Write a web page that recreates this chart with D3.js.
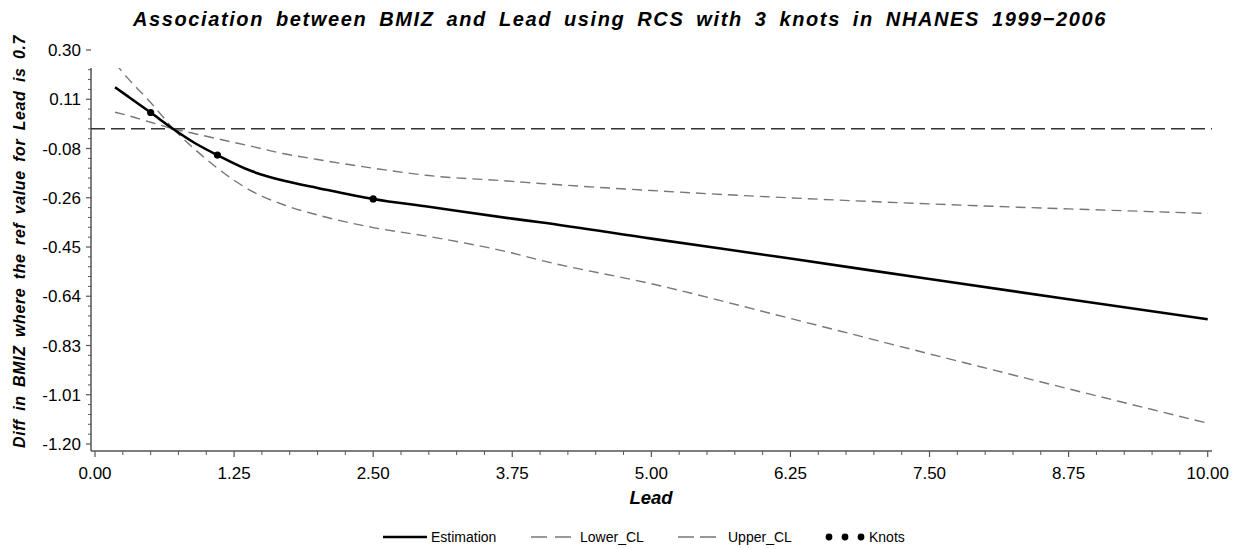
<!DOCTYPE html>
<html>
<head>
<meta charset="utf-8">
<script src="https://cdn.jsdelivr.net/npm/d3@7"></script>
<style>
  html, body { margin: 0; padding: 0; background: #fff; }
  svg { display: block; }
  text { font-family: "Liberation Sans", Arial, sans-serif; fill: #000; }
</style>
</head>
<body>
<svg id="chart" width="1240" height="549"></svg>
<script>
// ---- data ----
const lead      = [0.18, 0.30, 0.50, 0.70, 0.90, 1.10, 1.40, 1.70, 2.00, 2.50, 3.00, 3.75, 4.00, 5.00, 6.25, 7.50, 8.75, 10.00];
const estimate  = [0.158, 0.122, 0.062, 0.000, -0.055, -0.100, -0.160, -0.198, -0.225, -0.267, -0.297, -0.342, -0.356, -0.418, -0.494, -0.572, -0.649, -0.725];
const lowerCL   = [0.063, 0.050, 0.025, 0.000, -0.079, -0.150, -0.235, -0.290, -0.328, -0.376, -0.410, -0.473, -0.500, -0.590, -0.722, -0.857, -0.990, -1.121];
const upperCL   = [0.250, 0.190, 0.100, 0.000, -0.019, -0.038, -0.066, -0.095, -0.117, -0.150, -0.178, -0.200, -0.208, -0.235, -0.263, -0.286, -0.305, -0.322];
const refLead   = 0.7;
const refValue  = 0;
const knots     = [0.50, 1.10, 2.50];
const xTicks    = [0, 1.25, 2.5, 3.75, 5, 6.25, 7.5, 8.75, 10];
const xTickLabels = ["0.00", "1.25", "2.50", "3.75", "5.00", "6.25", "7.50", "8.75", "10.00"];
const yTicks    = [0.30, 0.1125, -0.075, -0.2625, -0.45, -0.6375, -0.825, -1.0125, -1.20];
const yTickLabels = ["0.30", "0.11", "-0.08", "-0.26", "-0.45", "-0.64", "-0.83", "-1.01", "-1.20"];
const titleText = "Association between BMIZ and Lead using RCS with 3 knots in NHANES 1999\u22122006";
const yLabelText = "Diff in BMIZ where the ref value for Lead is 0.7";
const xLabelText = "Lead";
const legendItems = ["Estimation", "Lower_CL", "Upper_CL", "Knots"];

// ---- layout ----
const svg = d3.select("#chart");
const area = { left: 91, right: 1212, top: 68, bottom: 451 };
const x = d3.scaleLinear().domain([0, 10]).range([95, 1207.7]);
const y = d3.scaleLinear().domain([0.30, -1.20]).range([50, 444]);

const axisColor = "#555";
const clColor = "#777";

// widen word gaps so a text fills a target width
function fitWords(sel, target) {
  const node = sel.node();
  const len = node.getComputedTextLength();
  const gaps = (sel.text().match(/ /g) || []).length;
  if (gaps > 0 && len < target) sel.style("word-spacing", ((target - len) / gaps) + "px");
}

// clip
svg.append("defs").append("clipPath").attr("id", "clip")
  .append("rect")
  .attr("x", area.left).attr("y", area.top)
  .attr("width", area.right - area.left).attr("height", area.bottom - area.top);

// title
const title = svg.append("text")
  .attr("x", 620).attr("y", 25.5)
  .attr("text-anchor", "middle")
  .style("font-size", "20px").style("font-weight", "bold").style("font-style", "italic")
  .style("letter-spacing", "1.6px")
  .text(titleText);
fitWords(title, 974);

// y axis
const yMinor = [];
for (let i = 0; i < yTicks.length - 1; i++) {
  const a = yTicks[i], b = yTicks[i + 1];
  for (let k = 1; k < 5; k++) yMinor.push(a + (b - a) * k / 5);
}
const gy = svg.append("g");
gy.append("line")
  .attr("x1", area.left).attr("x2", area.left)
  .attr("y1", area.top).attr("y2", area.bottom)
  .attr("stroke", axisColor).attr("stroke-width", 1.5);
gy.selectAll("line.maj").data(yTicks).enter().append("line").attr("class", "maj")
  .attr("x1", area.left - 5).attr("x2", area.left)
  .attr("y1", d => y(d)).attr("y2", d => y(d))
  .attr("stroke", axisColor).attr("stroke-width", 1.2);
gy.selectAll("line.min").data(yMinor.filter(d => y(d) >= area.top - 1)).enter().append("line").attr("class", "min")
  .attr("x1", area.left - 3).attr("x2", area.left)
  .attr("y1", d => y(d)).attr("y2", d => y(d))
  .attr("stroke", axisColor).attr("stroke-width", 1);
gy.selectAll("text").data(yTicks).enter().append("text")
  .attr("x", 81).attr("y", d => y(d) + 6)
  .attr("text-anchor", "end")
  .style("font-size", "17px")
  .text((d, i) => yTickLabels[i]);

// x axis
const xMinor = [];
for (let i = 0; i < xTicks.length - 1; i++) {
  const a = xTicks[i], b = xTicks[i + 1];
  for (let k = 1; k < 5; k++) xMinor.push(a + (b - a) * k / 5);
}
const gx = svg.append("g");
gx.append("line")
  .attr("x1", area.left).attr("x2", area.right)
  .attr("y1", area.bottom).attr("y2", area.bottom)
  .attr("stroke", axisColor).attr("stroke-width", 1.5);
gx.selectAll("line.maj").data(xTicks).enter().append("line").attr("class", "maj")
  .attr("x1", d => x(d)).attr("x2", d => x(d))
  .attr("y1", area.bottom).attr("y2", area.bottom + 6)
  .attr("stroke", axisColor).attr("stroke-width", 1.2);
gx.selectAll("line.min").data(xMinor).enter().append("line").attr("class", "min")
  .attr("x1", d => x(d)).attr("x2", d => x(d))
  .attr("y1", area.bottom).attr("y2", area.bottom + 4)
  .attr("stroke", axisColor).attr("stroke-width", 1);
gx.selectAll("text").data(xTicks).enter().append("text")
  .attr("x", d => x(d)).attr("y", 479)
  .attr("text-anchor", "middle")
  .style("font-size", "17px")
  .text((d, i) => xTickLabels[i]);

// axis labels
const yLab = svg.append("text")
  .attr("transform", "translate(25,241.5) rotate(-90)")
  .attr("text-anchor", "middle")
  .style("font-size", "16px").style("font-weight", "bold").style("font-style", "italic")
  .style("letter-spacing", "0.6px")
  .text(yLabelText);
fitWords(yLab, 413);
svg.append("text")
  .attr("x", 651).attr("y", 504)
  .attr("text-anchor", "middle")
  .style("font-size", "18.5px").style("font-weight", "bold").style("font-style", "italic")
  .text(xLabelText);

// plot
const plot = svg.append("g").attr("clip-path", "url(#clip)");

// reference line
plot.append("line")
  .attr("x1", area.left).attr("x2", area.right)
  .attr("y1", y(refValue)).attr("y2", y(refValue))
  .attr("stroke", "#333").attr("stroke-width", 1.5)
  .attr("stroke-dasharray", "14,6");

const pts = vals => lead.map((l, i) => [l, vals[i]]);
const line = d3.line().x(d => x(d[0])).y(d => y(d[1])).curve(d3.curveMonotoneX);

// confidence limits, split at the reference point (kink)
[lowerCL, upperCL].forEach(vals => {
  const p = pts(vals);
  const left = p.filter(d => d[0] <= refLead);
  const right = p.filter(d => d[0] >= refLead);
  [left, right].forEach(seg => {
    plot.append("path").datum(seg)
      .attr("d", line)
      .attr("fill", "none")
      .attr("stroke", clColor).attr("stroke-width", 1.4)
      .attr("stroke-dasharray", "10,6");
  });
});

// estimation
plot.append("path").datum(pts(estimate))
  .attr("d", line)
  .attr("fill", "none")
  .attr("stroke", "#000").attr("stroke-width", 2.6)
  .attr("stroke-linejoin", "round");

// knots
plot.selectAll("circle.knot").data(knots).enter().append("circle").attr("class", "knot")
  .attr("cx", d => x(d))
  .attr("cy", d => y(estimate[lead.indexOf(d)]))
  .attr("r", 3.6)
  .attr("fill", "#000");

// legend
const lg = svg.append("g");
const ly = 537;
lg.append("line").attr("x1", 383).attr("x2", 427).attr("y1", ly).attr("y2", ly)
  .attr("stroke", "#000").attr("stroke-width", 2.6);
lg.append("text").attr("x", 431).attr("y", ly + 5).style("font-size", "14px").text(legendItems[0]);
lg.append("line").attr("x1", 531).attr("x2", 571).attr("y1", ly).attr("y2", ly)
  .attr("stroke", clColor).attr("stroke-width", 1.6).attr("stroke-dasharray", "16,8");
lg.append("text").attr("x", 580).attr("y", ly + 5).style("font-size", "14px").text(legendItems[1]);
lg.append("line").attr("x1", 678).attr("x2", 716).attr("y1", ly).attr("y2", ly)
  .attr("stroke", clColor).attr("stroke-width", 1.6).attr("stroke-dasharray", "16,6");
lg.append("text").attr("x", 728).attr("y", ly + 5).style("font-size", "14px").text(legendItems[2]);
[829, 845, 861].forEach(cx => {
  lg.append("circle").attr("cx", cx).attr("cy", ly).attr("r", 3.4).attr("fill", "#000");
});
lg.append("text").attr("x", 869).attr("y", ly + 5).style("font-size", "14px").text(legendItems[3]);
</script>
</body>
</html>
